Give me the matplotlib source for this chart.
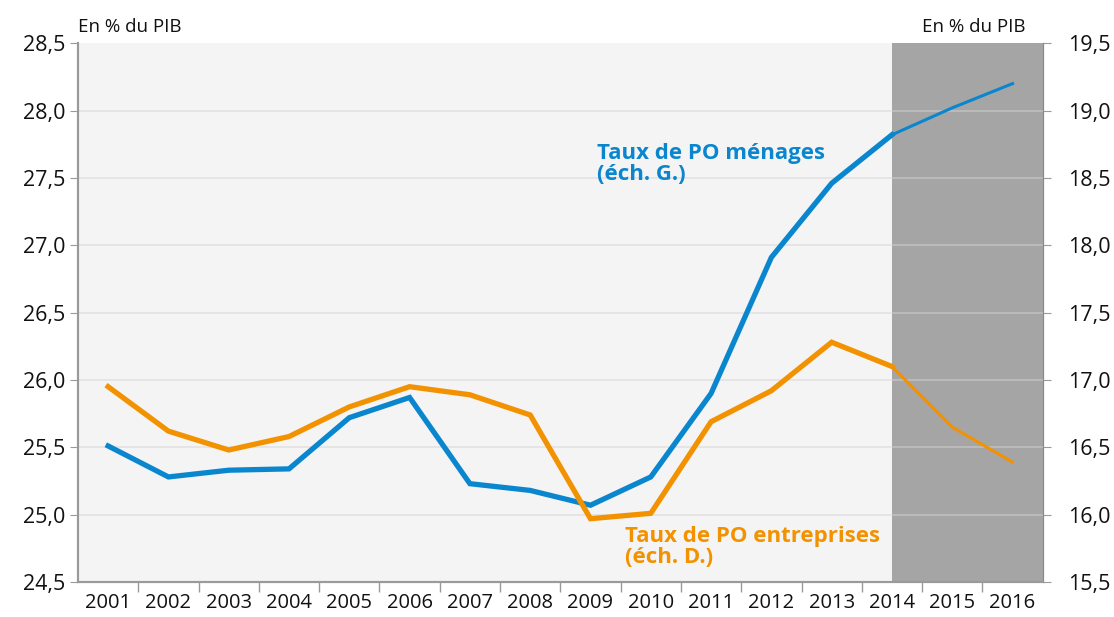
import numpy as np
import matplotlib.pyplot as plt
from matplotlib.ticker import FixedLocator, FuncFormatter

plt.rcParams['font.family'] = ['Open Sans', 'DejaVu Sans']

# data
years = ['2001', '2002', '2003', '2004', '2005', '2006', '2007', '2008',
         '2009', '2010', '2011', '2012', '2013', '2014', '2015', '2016']
menages = [25.51, 25.28, 25.33, 25.34, 25.72, 25.87, 25.23, 25.18,
           25.07, 25.28, 25.90, 26.91, 27.46, 27.82, 28.02, 28.20]   # left axis
entreprises = [16.95, 16.62, 16.48, 16.58, 16.80, 16.95, 16.89, 16.74,
               15.97, 16.01, 16.69, 16.92, 17.28, 17.10, 16.65, 16.39]  # right axis
first_forecast = '2014'

BLUE = '#0a86cf'
ORANGE = '#f39200'
x = np.arange(len(years))
k = years.index(first_forecast)

fig = plt.figure(figsize=(11.14, 6.17), dpi=100)
ax = fig.add_axes([0.070, 0.0567, 0.866, 0.8733])
ax2 = ax.twinx()

ax.set_facecolor('#f4f4f4')
ax.set_xlim(-0.5, len(years) - 0.5)
ax.set_ylim(24.5, 28.5)
ax2.set_ylim(15.5, 19.5)

left_ticks = np.arange(24.5, 28.51, 0.5)
for t in left_ticks[1:-1]:
    ax.axhline(t, color='#e2e2e2', lw=1.2, zorder=0)
ax.axvspan(k, len(years) - 0.5, color='#a6a5a5', lw=0, zorder=1)
ax.hlines(left_ticks[1:-1], k, len(years) - 0.5, color='#bfbfbf', lw=1.2, zorder=1.5)

# lines: thick for observed, thinner for forecast
ax.plot(x[:k + 1], menages[:k + 1], color=BLUE, lw=3.8, zorder=3,
        solid_joinstyle='miter')
ax.plot(x[k:], menages[k:], color=BLUE, lw=2.2, zorder=3)
ax2.plot(x[:k + 1], entreprises[:k + 1], color=ORANGE, lw=3.8, zorder=3,
         solid_joinstyle='miter')
ax2.plot(x[k:], entreprises[k:], color=ORANGE, lw=2.2, zorder=3)

fmt = FuncFormatter(lambda v, p: f'{v:.1f}'.replace('.', ','))
ax.yaxis.set_major_locator(FixedLocator(left_ticks))
ax.yaxis.set_major_formatter(fmt)
ax2.yaxis.set_major_locator(FixedLocator(np.arange(15.5, 19.51, 0.5)))
ax2.yaxis.set_major_formatter(fmt)

ax.xaxis.set_major_locator(FixedLocator(np.arange(0.5, len(years) - 1, 1)))
ax.xaxis.set_major_formatter(FuncFormatter(lambda v, p: ''))
ax.xaxis.set_minor_locator(FixedLocator(x))
ax.set_xticklabels(years, minor=True)
ax.tick_params(axis='x', which='major', length=7, color='#9a9a9a', width=1)
ax.tick_params(axis='x', which='minor', length=0, pad=8, labelsize=14.5,
               labelcolor='#111111')
ax.tick_params(axis='y', length=6, color='#9a9a9a', labelsize=15.5,
               labelcolor='#111111', pad=3)
ax2.tick_params(axis='y', length=6, color='#9a9a9a', labelsize=15.5,
                labelcolor='#111111', pad=12)

for a in (ax, ax2):
    a.spines['top'].set_visible(False)
    a.spines['left'].set_color('#9a9a9a')
    a.spines['bottom'].set_color('#9a9a9a')
    a.spines['right'].set_color('#8a8a8a')
    a.spines['left'].set_linewidth(1.5)
    a.spines['bottom'].set_linewidth(1.5)

fig.text(0.070, 0.942, 'En % du PIB', fontsize=13.5, color='#111111',
         ha='left', va='bottom')
fig.text(0.921, 0.942, 'En % du PIB', fontsize=13.5, color='#111111',
         ha='right', va='bottom')

ax.text(8.1, 27.6, 'Taux de PO ménages\n(éch. G.)', color=BLUE,
        fontsize=16, fontweight='bold', ha='left', va='center',
        linespacing=1.0, zorder=4)
ax.text(8.57, 24.76, 'Taux de PO entreprises\n(éch. D.)', color=ORANGE,
        fontsize=16, fontweight='bold', ha='left', va='center',
        linespacing=1.0, zorder=4)

fig.savefig('out.png', dpi=100)
